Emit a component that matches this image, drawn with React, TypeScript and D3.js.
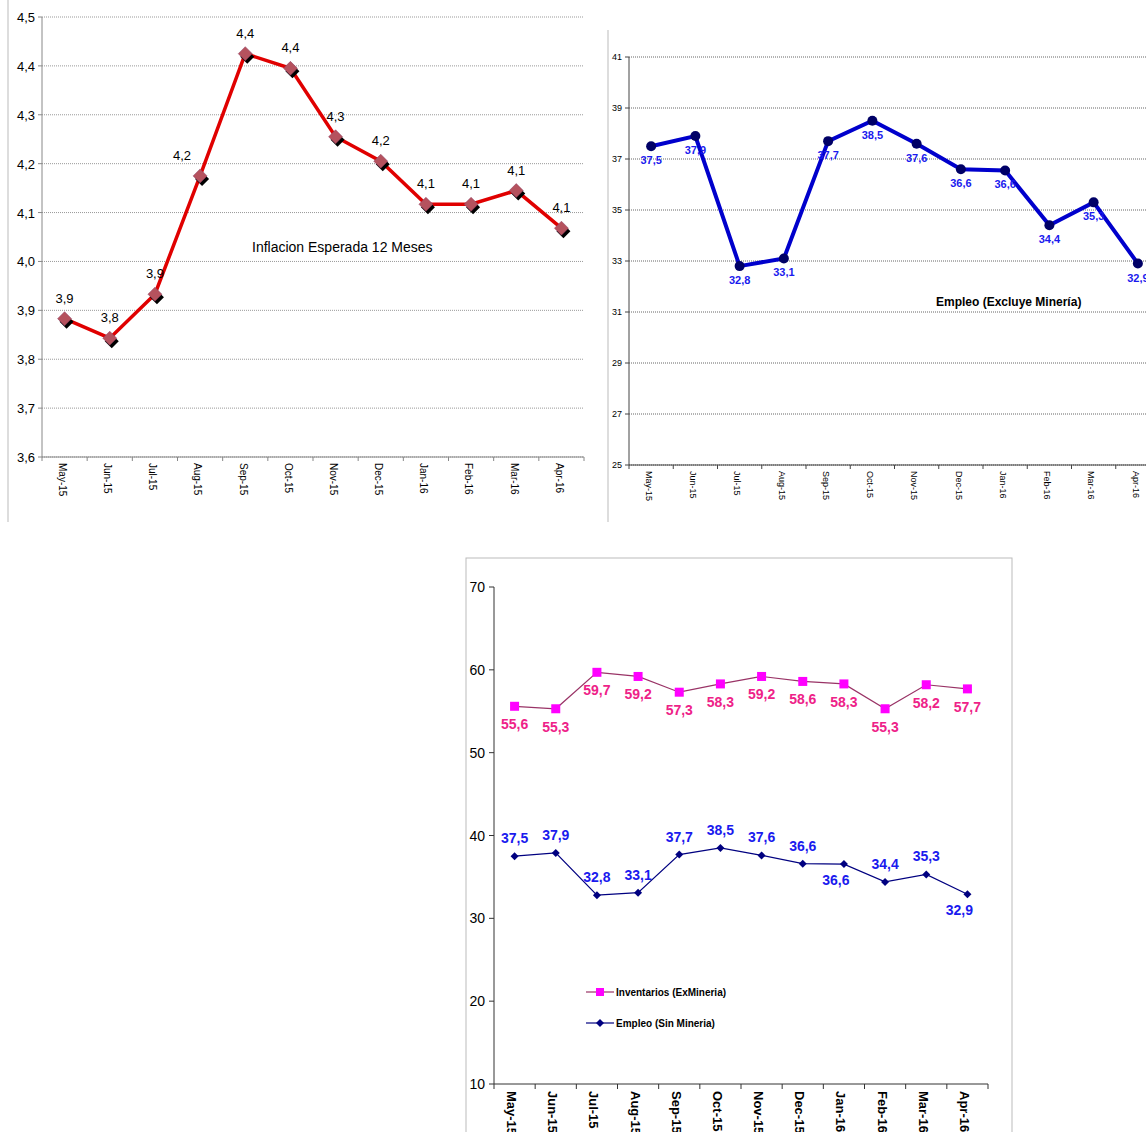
import * as d3 from 'd3';

const months = ['May-15', 'Jun-15', 'Jul-15', 'Aug-15', 'Sep-15', 'Oct-15', 'Nov-15', 'Dec-15', 'Jan-16', 'Feb-16', 'Mar-16', 'Apr-16'];
const inflacion = [3.883, 3.843, 3.933, 4.175, 4.425, 4.395, 4.255, 4.205, 4.117, 4.117, 4.145, 4.068];
const inflacionLabels = ['3,9', '3,8', '3,9', '4,2', '4,4', '4,4', '4,3', '4,2', '4,1', '4,1', '4,1', '4,1'];
const empleo = [37.5, 37.9, 32.8, 33.1, 37.7, 38.5, 37.6, 36.6, 36.55, 34.4, 35.3, 32.9];
const empleoLabels = ['37,5', '37,9', '32,8', '33,1', '37,7', '38,5', '37,6', '36,6', '36,6', '34,4', '35,3', '32,9'];
const inventarios = [55.6, 55.3, 59.7, 59.2, 57.3, 58.3, 59.2, 58.6, 58.3, 55.3, 58.2, 57.7];
const inventariosLabels = ['55,6', '55,3', '59,7', '59,2', '57,3', '58,3', '59,2', '58,6', '58,3', '55,3', '58,2', '57,7'];
const empleoAbove = [true, true, true, true, true, true, true, true, false, true, true, false];
const ticks1 = d3.range(3.6, 4.51, 0.1);
const ticks2 = d3.range(25, 42, 2);
const ticks3 = d3.range(10, 71, 10);
const fmt1 = (v: number) => v.toFixed(1).replace('.', ',');

const F = 'Liberation Sans, Arial, sans-serif';

function Chart1() {
  const x = d3.scaleBand<string>().domain(months).range([42, 584]);
  const y = d3.scaleLinear().domain([3.6, 4.5]).range([457, 17]);
  const cx = (i: number) => x(months[i])! + x.bandwidth() / 2;
  const line = d3.line<number>().x((_, i) => cx(i)).y(d => y(d));
  const dia = (px: number, py: number, r: number) => `M${px},${py - r}L${px + r},${py}L${px},${py + r}L${px - r},${py}Z`;
  return (
    <g fontFamily={F}>
      <line x1={8} x2={8} y1={0} y2={522} stroke="#bbb" />
      {ticks1.map(t => (
        <g key={t}>
          <line x1={42} x2={584} y1={y(t)} y2={y(t)} stroke="#999" strokeDasharray="1,1" />
          <line x1={38} x2={42} y1={y(t)} y2={y(t)} stroke="#888" />
          <text x={35} y={y(t) + 5} fontSize={13} textAnchor="end">{fmt1(t)}</text>
        </g>
      ))}
      <line x1={42} x2={42} y1={17} y2={457} stroke="#888" />
      <line x1={42} x2={584} y1={457} y2={457} stroke="#888" />
      {months.map((m, i) => (
        <g key={m}>
          <line x1={x(m)!} x2={x(m)!} y1={457} y2={461} stroke="#888" />
          <text transform={`translate(${cx(i) - 3},${463}) rotate(90)`} fontSize={10} dominantBaseline="middle">{m}</text>
        </g>
      ))}
      <line x1={584} x2={584} y1={457} y2={461} stroke="#888" />
      <path d={line(inflacion)!} fill="none" stroke="#e00000" strokeWidth={3.5} />
      {inflacion.map((v, i) => (
        <g key={i}>
          <path d={dia(cx(i) + 2, y(v) + 3, 7)} fill="#000" />
          <path d={dia(cx(i), y(v), 7)} fill="#b5525e" stroke="#8a3a60" strokeWidth={0.5} />
          <text x={cx(i) - (i === 3 ? 18 : 0)} y={y(v) - 16} fontSize={13} textAnchor="middle">{inflacionLabels[i]}</text>
        </g>
      ))}
      <text x={252} y={252} fontSize={14}>Inflacion Esperada 12 Meses</text>
    </g>
  );
}

function Chart2() {
  const x = d3.scaleBand<string>().domain(months).range([629, 1160]);
  const y = d3.scaleLinear().domain([25, 41]).range([465, 57]);
  const cx = (i: number) => x(months[i])! + x.bandwidth() / 2;
  const line = d3.line<number>().x((_, i) => cx(i)).y(d => y(d));
  return (
    <g fontFamily={F}>
      <line x1={608} x2={608} y1={30} y2={522} stroke="#bbb" />
      {ticks2.map(t => (
        <g key={t}>
          <line x1={629} x2={1160} y1={y(t)} y2={y(t)} stroke="#666" strokeDasharray="1,1" />
          <line x1={625} x2={629} y1={y(t)} y2={y(t)} stroke="#444" />
          <text x={622} y={y(t) + 3} fontSize={9} textAnchor="end">{t}</text>
        </g>
      ))}
      <line x1={629} x2={629} y1={57} y2={465} stroke="#444" />
      <line x1={629} x2={1160} y1={465} y2={465} stroke="#444" />
      {months.map((m, i) => (
        <g key={m}>
          <line x1={x(m)!} x2={x(m)!} y1={465} y2={469} stroke="#444" />
          <text transform={`translate(${cx(i) - 3},${471}) rotate(90)`} fontSize={9} dominantBaseline="middle">{m}</text>
        </g>
      ))}
      <path d={line(empleo)!} fill="none" stroke="#0000cc" strokeWidth={4} />
      {empleo.map((v, i) => (
        <g key={i}>
          <circle cx={cx(i)} cy={y(v)} r={5} fill="#000066" />
          <text x={cx(i)} y={y(v) + 18} fontSize={11} fontWeight="bold" fill="#1a1aee" textAnchor="middle">{empleoLabels[i]}</text>
        </g>
      ))}
      <text x={936} y={306} fontSize={12} fontWeight="bold">Empleo (Excluye Minería)</text>
    </g>
  );
}

function Chart3() {
  const x = d3.scaleBand<string>().domain(months).range([494, 988]);
  const y = d3.scaleLinear().domain([10, 70]).range([1084, 587]);
  const cx = (i: number) => x(months[i])! + x.bandwidth() / 2;
  const line = d3.line<number>().x((_, i) => cx(i)).y(d => y(d));
  const dia = (px: number, py: number, r: number) => `M${px},${py - r}L${px + r},${py}L${px},${py + r}L${px - r},${py}Z`;
  return (
    <g fontFamily={F}>
      <rect x={466} y={558} width={546} height={600} fill="none" stroke="#bbb" />
      {ticks3.map(t => (
        <g key={t}>
          <line x1={489} x2={494} y1={y(t)} y2={y(t)} stroke="#333" />
          <text x={485} y={y(t) + 5} fontSize={14} textAnchor="end">{t}</text>
        </g>
      ))}
      <line x1={494} x2={494} y1={587} y2={1084} stroke="#333" />
      <line x1={494} x2={988} y1={1084} y2={1084} stroke="#333" />
      {months.map((m, i) => (
        <g key={m}>
          <line x1={x(m)!} x2={x(m)!} y1={1084} y2={1089} stroke="#333" />
          <text transform={`translate(${cx(i) - 4},${1091}) rotate(90)`} fontSize={13} fontWeight="bold" dominantBaseline="middle">{m}</text>
        </g>
      ))}
      <line x1={988} x2={988} y1={1084} y2={1089} stroke="#333" />
      <path d={line(inventarios)!} fill="none" stroke="#993366" strokeWidth={1.2} />
      <path d={line(empleo)!} fill="none" stroke="#000080" strokeWidth={1.2} />
      {inventarios.map((v, i) => (
        <g key={i}>
          <rect x={cx(i) - 4.5} y={y(v) - 4.5} width={9} height={9} fill="#ff00ff" />
          <text x={cx(i)} y={y(v) + 23} fontSize={14} fontWeight="bold" fill="#ee2288" textAnchor="middle">{inventariosLabels[i]}</text>
        </g>
      ))}
      {empleo.map((v, i) => (
        <g key={i}>
          <path d={dia(cx(i), y(v), 4)} fill="#000080" />
          <text x={cx(i) - (empleoAbove[i] ? 0 : 8)} y={empleoAbove[i] ? y(v) - 13 : y(v) + 21} fontSize={14} fontWeight="bold" fill="#1a1aee" textAnchor="middle">{empleoLabels[i]}</text>
        </g>
      ))}
      <line x1={586} x2={614} y1={992} y2={992} stroke="#993366" strokeWidth={1.2} />
      <rect x={596} y={988} width={8} height={8} fill="#ff00ff" />
      <text x={616} y={996} fontSize={10} fontWeight="bold">Inventarios (ExMineria)</text>
      <line x1={586} x2={614} y1={1023} y2={1023} stroke="#000080" strokeWidth={1.2} />
      <path d={dia(600, 1023, 4)} fill="#000080" />
      <text x={616} y={1027} fontSize={10} fontWeight="bold">Empleo (Sin Mineria)</text>
    </g>
  );
}

export default function App() {
  return (
    <svg width={1146} height={1132} style={{ position: 'absolute', left: 0, top: 0, background: '#fff' }}>
      <Chart1 />
      <Chart2 />
      <Chart3 />
    </svg>
  );
}
